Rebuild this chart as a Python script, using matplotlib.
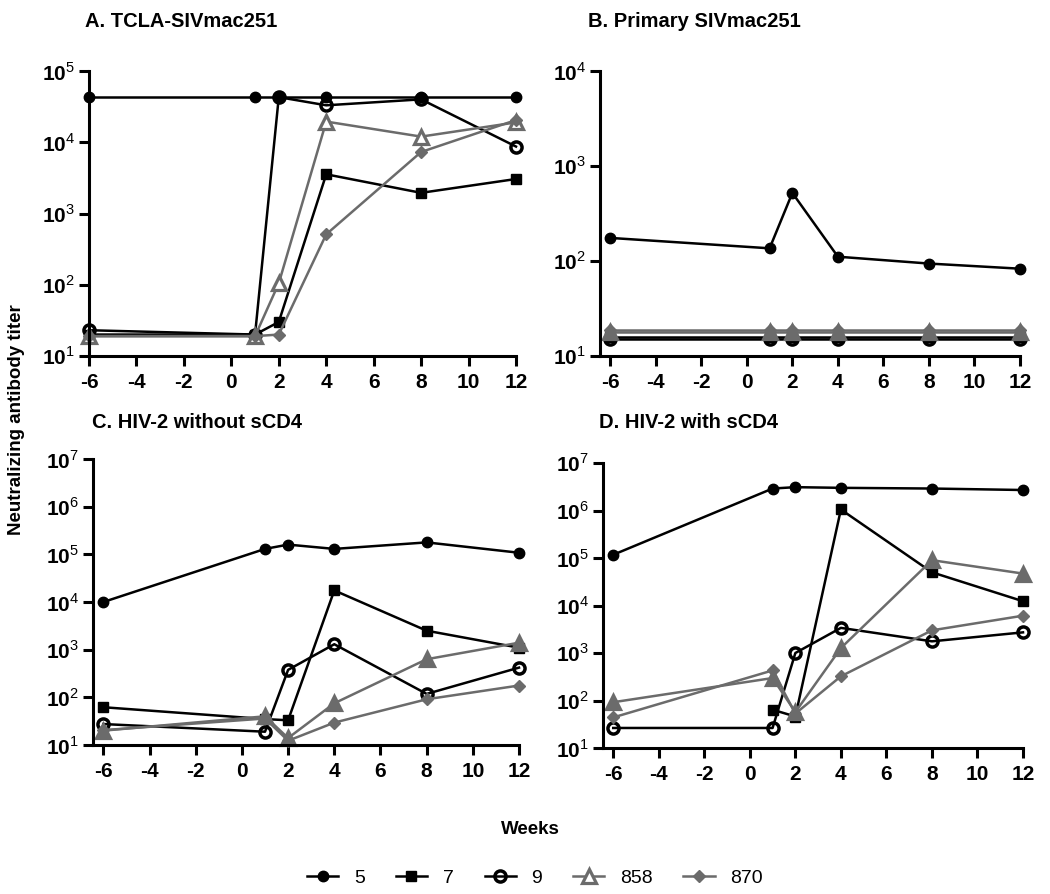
import numpy as np
import matplotlib
matplotlib.use('Agg')
import matplotlib.pyplot as plt
from matplotlib.lines import Line2D

plt.rcParams['font.family'] = ['Liberation Sans', 'DejaVu Sans']
plt.rcParams['mathtext.fontset'] = 'custom'
plt.rcParams['mathtext.rm'] = 'Liberation Sans'
plt.rcParams['mathtext.bf'] = 'Liberation Sans:bold'
plt.rcParams['axes.unicode_minus'] = False

weeks = [-6, 1, 2, 4, 8, 12]
animals = ['5', '7', '9', '858', '870']

# A. TCLA-SIVmac251
a_5 = [43000, 43000, 43000, 43000, 43000, 43000]
a_7 = [20, 20, 30, 3550, 1950, 3050]
a_9 = [23, 20, 43000, 33000, 40000, 8700]
a_858 = [19, 19, 105, 19500, 12000, 19000]
a_870 = [19, 19, 20, 510, 7300, 20500]

# B. Primary SIVmac251
b_5 = [175, 136, 521, 111, 94, 83]
b_7 = [16, 16, 16, 16, 16, 16]
b_9 = [15.2, 15.2, 15.2, 15.2, 15.2, 15.2]
b_858 = [18, 18, 18, 18, 18, 18]
b_870 = [19, 19, 19, 19, 19, 19]

# C. HIV-2 without sCD4
c_5 = [10000, 130000, 160000, 130000, 178000, 108000]
c_7 = [62, 35, 33, 17500, 2500, 1100]
c_9 = [27.5, 19, 377, 1300, 118, 420]
c_858 = [20, 40, 14, 75, 630, 1400]
c_870 = [20.5, 36, 12.3, 29.5, 91, 177]

# D. HIV-2 with sCD4
d_5 = [117000, 2.9e6, 3.1e6, 3.0e6, 2.9e6, 2.7e6]
d_7 = [np.nan, 64, 46, 1.05e6, 50000, 12300]
d_9 = [26.4, 26.4, 1000, 3380, 1760, 2720]
d_858 = [92, 297, 57, 1270, 90000, 47000]
d_870 = [44, 430, 53, 323, 3000, 6100]

gray = '#6b6b6b'
lw = 1.8

def styles(tri_face):
    return [
        dict(color='black', marker='o', ms=7.5, mfc='black', mec='black'),
        dict(color='black', marker='s', ms=7.5, mfc='black', mec='black'),
        dict(color='black', marker='o', ms=8, mfc='none', mec='black', mew=2.5),
        dict(color=gray, marker='^', ms=9.5, mfc=tri_face, mec=gray, mew=2.3),
        dict(color=gray, marker='D', ms=6.5, mfc=gray, mec=gray),
    ]

panels = [
    ('A. TCLA-SIVmac251', [a_5, a_7, a_9, a_858, a_870], 5, (-6, 12), 'white',
     [89, 71, 516, 356], 85, 27),
    ('B. Primary SIVmac251', [b_5, b_7, b_9, b_858, b_870], 4, (-6.45, 12), gray,
     [600, 71, 1020, 356], 588, 27),
    ('C. HIV-2 without sCD4', [c_5, c_7, c_9, c_858, c_870], 7, (-6.45, 12), gray,
     [93, 459, 519, 745], 92, 428),
    ('D. HIV-2 with sCD4', [d_5, d_7, d_9, d_858, d_870], 7, (-6.45, 12), gray,
     [603, 463, 1023, 748], 599, 428),
]

W, H = 1050, 894
fig = plt.figure(figsize=(W / 100, H / 100), dpi=100)

for title, series, top, xlim, tri_face, box, tx, ty in panels:
    l, t, r, b = box
    ax = fig.add_axes([l / W, 1 - b / H, (r - l) / W, (b - t) / H])
    for vals, st in zip(series, styles(tri_face)):
        ax.plot(weeks, vals, lw=lw, clip_on=False, **st)
    ax.set_yscale('log')
    ax.set_ylim(10, 10 ** top)
    ax.set_xlim(*xlim)
    ax.set_xticks(range(-6, 13, 2))
    ax.set_yticks([10 ** k for k in range(1, top + 1)])
    ax.set_yticklabels([r'$\mathbf{10}^{%d}$' % k for k in range(1, top + 1)])
    ax.yaxis.set_minor_locator(matplotlib.ticker.NullLocator())
    for s in ['top', 'right']:
        ax.spines[s].set_visible(False)
    for s in ['left', 'bottom']:
        ax.spines[s].set_linewidth(2.2)
    ax.tick_params(width=2.2, length=7)
    ax.tick_params(axis='x', labelsize=15, pad=5)
    ax.tick_params(axis='y', labelsize=15, pad=3)
    for lab in ax.get_xticklabels():
        lab.set_fontweight('bold')
    fig.text(tx / W, 1 - ty / H, title, fontsize=14.5, fontweight='bold',
             va='baseline', ha='left')

fig.text(17 / W, 1 - 420 / H, 'Neutralizing antibody titer', rotation=90,
         fontsize=13.5, fontweight='bold', ha='center', va='center')
fig.text(530 / W, 1 - 829 / H, 'Weeks', fontsize=13.5, fontweight='bold',
         ha='center', va='center')

handles = [Line2D([], [], lw=lw, **st) for st in styles('white')]
fig.legend(handles, animals, loc='center', bbox_to_anchor=(535 / W, 1 - 878 / H),
           ncol=5, frameon=False, fontsize=14, handlelength=1.6,
           handletextpad=0.8, columnspacing=1.6)

fig.savefig('out.png', dpi=100)
